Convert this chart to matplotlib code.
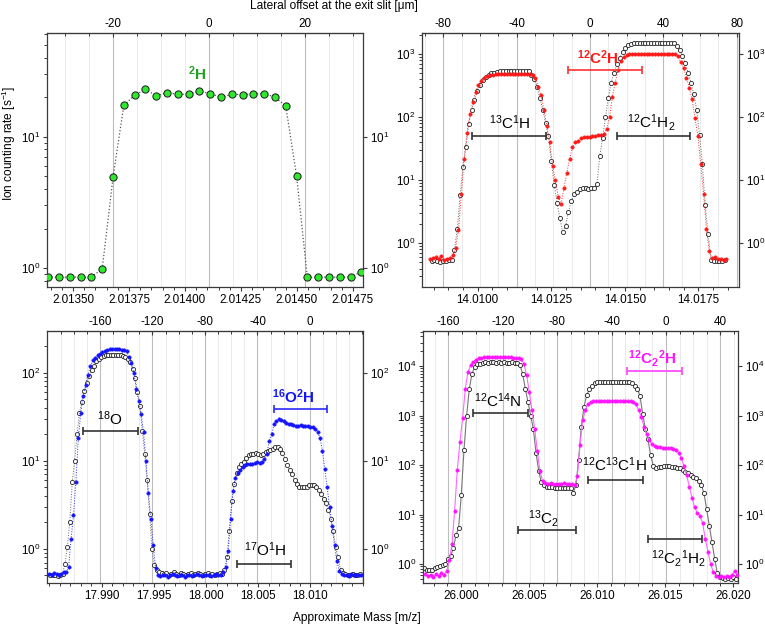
import numpy as np
import matplotlib
matplotlib.use("Agg")
import matplotlib.pyplot as plt
from matplotlib.ticker import (FixedLocator, MultipleLocator, FormatStrFormatter,
                               LogLocator, LogFormatterMathtext, NullFormatter)

plt.rcParams.update({
    "font.family": "Liberation Sans",
    "mathtext.fontset": "custom",
    "mathtext.rm": "Liberation Sans",
    "mathtext.it": "Liberation Sans:italic",
    "mathtext.bf": "Liberation Sans:bold",
    "axes.unicode_minus": False,
    "font.size": 8.6,
})

# ── Data ──────────────────────────────────────────────────────────────────────
# mass scans: start mass, step in m/z, count rates [1/s]

H2_START, H2_STEP = 2.0133897, 0.0000482
H2_RATE = [0.855, 0.855, 0.855, 0.855, 0.855, 0.99, 4.9, 17.3, 20.7, 22.9,
           20.5, 21.6, 21.0, 21.0, 22.2, 21.3, 19.9, 21.0, 20.9, 21.2,
           21.3, 20.0, 17.1, 5.06, 0.855, 0.855, 0.855, 0.855, 0.855, 0.94]

CH_STEP = 0.0000968
CH_BLACK_START = 14.0084364
CH_BLACK = [0.53, 0.54, 0.52, 0.50, 0.53, 0.52, 0.54, 0.55,
            0.78, 1.7, 5.8, 16, 33, 78, 128, 185, 260, 320, 390, 430, 465, 490, 505, 520, 530,
            535, 538, 540, 540, 538, 540, 540, 538, 535,
            530, 470, 400, 300, 200, 130, 80, 50, 20, 8.5, 4.4, 2.5, 1.5,
            1.9, 3.1, 4.7, 6.0, 6.5, 7.2, 7.4, 7.4, 7.3, 7.4, 7.5, 8.7,
            24, 47, 100, 200, 350, 500, 680, 870, 1070, 1250, 1370, 1440, 1460,
            1470, 1480, 1480, 1480, 1480, 1480, 1480, 1480, 1480, 1480, 1480, 1478, 1475, 1460,
            1320, 1140, 920, 720, 500, 350, 230, 130, 52, 18, 4.0, 1.4,
            0.55, 0.53, 0.52, 0.53, 0.52, 0.55]
CH_RED_START = 14.0083798
CH_RED = [0.57, 0.58, 0.60, 0.57, 0.62, 0.55, 0.57, 0.58, 0.65,
          0.85, 1.6, 6, 22, 55, 110, 170, 250, 320, 370, 410, 440, 455, 468, 475,
          480, 482, 483, 483, 482, 483, 483, 482, 483, 482, 480, 478, 470,
          420, 300, 220, 130, 72, 40, 17, 10, 5.5, 4.2,
          7.5, 13, 22, 33, 40, 42, 46, 48, 49, 49, 50, 50, 51, 52, 53,
          65, 100, 210, 350, 560, 780, 900, 950, 990,
          1000, 1000, 1005, 1005, 1005, 1005, 1005, 1005, 1005, 1005, 1005, 1005, 1000, 1000, 1000,
          990, 930, 730, 600, 420, 290, 190, 95, 50, 18, 6, 1.7, 0.75,
          0.58, 0.60, 0.56, 0.57, 0.55, 0.57]

OH_STEP = 0.0002315
OH_BLUE_START = 17.984984
OH_BLUE = [0.52, 0.51, 0.53, 0.52, 0.50, 0.52, 0.54, 0.55,
           0.62, 1.3, 2.4, 5.8, 18, 35, 55, 72, 95, 118, 138, 148, 158, 165, 170, 176, 180,
           184, 185, 184, 185, 184, 183, 182,
           175, 150, 128, 100, 65, 48, 34, 21, 10, 4.3, 2.2, 1.1, 0.6,
           0.50, 0.49, 0.51, 0.50, 0.48, 0.50, 0.52, 0.50, 0.49, 0.51, 0.50, 0.48, 0.50, 0.51,
           0.49, 0.50, 0.52, 0.50, 0.49, 0.50, 0.51, 0.50, 0.49, 0.50, 0.52, 0.50, 0.51, 0.55,
           0.62, 0.95, 2.2, 4.5, 6.3, 7.3, 7.9, 8.4, 8.9, 9.1, 9.3, 9.2, 9.4, 9.6, 9.4, 9.8,
           10.5, 12, 17, 20, 26, 28.5, 29.5, 29, 28, 27, 26.5, 26, 25.5, 25, 25, 25.5, 25, 25,
           25, 24.5, 24, 23, 21.5, 18, 13, 8, 5, 3, 1.8, 1.1, 0.72, 0.56,
           0.52, 0.50, 0.51, 0.49, 0.52, 0.50, 0.51, 0.50, 0.50]
OH_BLACK_START = 17.985096
OH_BLACK = [0.50, 0.50, 0.51, 0.49, 0.50, 0.52,
            0.68, 1.05, 2.0, 5.8, 10, 20, 35, 47, 62, 76, 92, 108, 120, 135, 145, 150, 155,
            158, 160, 160, 161, 160, 160, 159, 157,
            150, 142, 132, 110, 88, 60, 42, 22, 12, 6, 2.5, 1.0, 0.65, 0.57,
            0.55, 0.53, 0.52, 0.53, 0.51, 0.52, 0.54, 0.52, 0.51, 0.53, 0.52, 0.50, 0.52, 0.53,
            0.51, 0.52, 0.53, 0.52, 0.51, 0.52, 0.53, 0.51, 0.52, 0.50, 0.52, 0.53, 0.52,
            0.58, 0.8, 1.6, 3.5, 5.5, 7.2, 8.5, 9.3, 9.8, 10.8, 11.5, 12, 12.1, 12.2, 11.8,
            11.6, 12.1, 12.5, 12.9, 13.2, 13.7, 14.2, 14.5,
            13.8, 12.2, 10.6, 8.9, 7.8, 7.0, 6.1, 5.4, 5.0, 5.0, 5.0, 5.1, 5.3, 5.3, 5.3, 5.1,
            4.7, 4.2, 3.7, 3.3, 2.75, 2.2, 1.6, 1.05, 0.8, 0.57,
            0.53, 0.52, 0.50, 0.51, 0.52, 0.50, 0.51, 0.52]

C2_STEP = 0.0001958
C2_BLACK_START = 25.997283
C2_BLACK = [0.82, 0.78, 0.76, 0.78, 0.82, 0.86, 0.92, 0.98, 1.02, 1.25, 1.45, 2.1, 3.8, 5.5,
            25, 200, 1000, 3500, 7000, 9500, 10800, 11300,
            11800, 11900, 11800, 11900, 11900, 11800, 11900, 11800, 11900, 11800, 11800, 11900,
            11800, 11600,
            10500, 7000, 3500, 1900, 1000, 550, 180, 78, 45, 40, 37,
            36, 35.5, 35, 35, 35, 35, 35, 35, 34,
            28, 40, 130, 600, 1500, 2600, 3400, 4000, 4500,
            4750, 4800, 4850, 4800, 4800, 4850, 4800, 4800, 4850, 4800, 4800, 4800, 4750,
            4600, 4000, 3500, 2500, 1100, 550, 330, 160, 95,
            88, 90, 93, 95, 95, 94, 93, 91, 89, 86, 80, 73, 68, 63, 58, 54, 48, 40, 27, 13, 6,
            2.8, 1.3, 0.65, 0.55,
            0.52, 0.50, 0.52, 0.50, 0.55, 0.50]
C2_MAG_START = 25.997381
C2_MAG = [0.62, 0.58, 0.60, 0.55, 0.62, 0.58, 0.65, 0.60, 0.72,
          1.2, 2.5, 12, 80, 300, 900, 3500, 7500, 10500, 12200, 13500, 14500,
          14800, 15000, 15100, 15000, 15200, 15000, 15100, 15000, 15000, 15100, 15000, 15000,
          14900, 14800, 14500,
          14000, 11000, 6600, 3000, 1300, 550, 190, 75, 48, 44,
          42, 43, 42, 41, 42, 42, 43, 42, 41, 42,
          39, 60, 250, 800, 1300, 1700, 1900,
          1950, 1980, 2000, 2000, 1990, 2000, 2000, 1990, 2000, 2000, 2000, 1990, 1980, 1960, 1940,
          1900, 1700, 1300, 950, 600, 420, 320, 265, 245, 235, 228, 225, 225, 222, 220, 215, 205,
          180, 140, 95, 62, 37, 22, 14, 11, 9.5, 6.8, 3.2, 1.8, 1.0,
          0.7, 0.58, 0.55, 0.57, 0.55, 0.58, 0.56, 0.60, 0.72, 0.60]

# mass windows of the species: (low mass, high mass, height)
CH_BARS = {"12C2H": (14.013057, 14.015571, 550),
           "13C1H": (14.009817, 14.012310, 50),
           "12C1H2": (14.014721, 14.017211, 50)}
OH_BARS = {"16O2H": (18.006504, 18.011609, 38.4),
           "18O": (17.988238, 17.993448, 22),
           "17O1H": (18.002989, 18.008103, 0.68)}
C2_BARS = {"12C22H": (26.012166, 26.016204, 7900),
           "12C14N": (26.000903, 26.004941, 1140),
           "12C13C1H": (26.009347, 26.013385, 50),
           "13C2": (26.004207, 26.008443, 5.0),
           "12C21H2": (26.013708, 26.017717, 3.3)}

# axis ticks
H2_MASS_TICKS = [2.01350, 2.01375, 2.01400, 2.01425, 2.01450, 2.01475]
CH_MASS_TICKS = [14.0100, 14.0125, 14.0150, 14.0175]
OH_MASS_TICKS = [17.990, 17.995, 18.000, 18.005, 18.010]
C2_MASS_TICKS = [26.000, 26.005, 26.010, 26.015, 26.020]
H2_OFF_TICKS = [-20, 0, 20]
CH_OFF_TICKS = [-80, -40, 0, 40, 80]
OH_OFF_TICKS = [-160, -120, -80, -40, 0]
C2_OFF_TICKS = [-160, -120, -80, -40, 0, 40]

AX_COL = "#3a3a3a"


def scan(start, step, values):
    return start + step * np.arange(len(values)), np.array(values)


def style_ticks(axis_obj, direction="out"):
    axis_obj.tick_params(which="both", direction=direction, colors=AX_COL,
                         labelcolor="black", labelsize=8.4, pad=2)
    axis_obj.tick_params(which="major", length=3, width=0.8)
    axis_obj.tick_params(which="minor", length=2, width=0.7)


def panel(fig, rect, xlim, ylim, m0, k, mass_ticks, mass_fmt, mass_minor,
          off_ticks, off_minor):
    ax = fig.add_axes(rect)
    ax.set_yscale("log")
    ax.set_xlim(xlim)
    ax.set_ylim(ylim)
    ax.xaxis.set_major_locator(FixedLocator(mass_ticks))
    ax.xaxis.set_major_formatter(FormatStrFormatter(mass_fmt))
    ax.xaxis.set_minor_locator(MultipleLocator(mass_minor))
    ax.yaxis.set_major_locator(LogLocator(base=10))
    ax.yaxis.set_major_formatter(LogFormatterMathtext())
    ax.yaxis.set_minor_locator(LogLocator(base=10, subs=np.arange(2, 10)))
    ax.yaxis.set_minor_formatter(NullFormatter())
    ax.tick_params(top=False, right=True, labelright=True)
    style_ticks(ax)
    for s in ax.spines.values():
        s.set_color(AX_COL)
        s.set_linewidth(0.9)

    fwd = lambda m: (m - m0) * k
    inv = lambda o: o / k + m0
    sec = ax.secondary_xaxis("top", functions=(fwd, inv))
    sec.xaxis.set_major_locator(FixedLocator(off_ticks))
    sec.xaxis.set_major_formatter(FormatStrFormatter("%d"))
    sec.xaxis.set_minor_locator(MultipleLocator(off_minor))
    style_ticks(sec, direction="in")
    sec.spines["top"].set_color(AX_COL)

    # vertical grid follows the lateral-offset ticks
    lo, hi = sorted(fwd(np.array(xlim)))
    for o in np.arange(np.ceil(lo / off_minor) * off_minor, hi, off_minor):
        major = any(abs(o - t) < 1e-6 for t in off_ticks)
        ax.axvline(inv(o), color="#bdbdbd" if major else "#e6e6e6",
                   lw=0.8 if major else 0.6, zorder=0)
    return ax


def bar(ax, lo, hi, y, color):
    c = 0.5 * (lo + hi)
    ax.errorbar(c, y, xerr=[[c - lo], [hi - c]], fmt="none", ecolor=color,
                elinewidth=1.2, capsize=3, capthick=1.2, zorder=4)


fig = plt.figure(figsize=(7.65, 6.27), dpi=100)

# ── 1. ²H ─────────────────────────────────────────────────────────────────────
ax1 = panel(fig, [0.0614, 0.5423, 0.4131, 0.4051], (2.013384, 2.014795), (0.72, 61.5),
            2.014106, 46667, H2_MASS_TICKS, "%.5f", 0.00005, H2_OFF_TICKS, 5)
x, y = scan(H2_START, H2_STEP, H2_RATE)
ax1.plot(x, y, ls=":", color="#555555", lw=0.9, marker="o", ms=5.2,
         mfc="#2ee82e", mec="#1a1a1a", mew=0.7, zorder=3)
ax1.text(2.014054, 30.3, r"$\mathbf{{}^{2}H}$", color="#1f9e1f", fontsize=11,
         ha="center", va="center")

# ── 2. mass 14 ────────────────────────────────────────────────────────────────
ax2 = panel(fig, [0.5516, 0.5423, 0.4144, 0.4051], (14.008108, 14.018876), (0.204, 2140),
            14.013815, 16058, CH_MASS_TICKS, "%.4f", 0.0005, CH_OFF_TICKS, 10)
x, y = scan(CH_BLACK_START, CH_STEP, CH_BLACK)
ax2.plot(x, y, ls=":", color="#666666", lw=0.7, marker="o", ms=3.0,
         mfc="white", mec="#222222", mew=0.6, zorder=2)
x, y = scan(CH_RED_START, CH_STEP, CH_RED)
ax2.plot(x, y, ls=":", color="#ff2a2a", lw=0.7, marker="o", ms=2.5,
         mfc="#ff1a1a", mec="#ff1a1a", mew=0.3, zorder=3)
bar(ax2, *CH_BARS["12C2H"], "#ff3030")
bar(ax2, *CH_BARS["13C1H"], "#333333")
bar(ax2, *CH_BARS["12C1H2"], "#333333")
ax2.text(14.014086, 870, r"$\mathbf{{}^{12}C{}^{2}H}$", color="#ff1a1a", fontsize=11,
         ha="center", va="center")
ax2.text(14.011097, 81, r"${}^{13}\mathrm{C}{}^{1}\mathrm{H}$", fontsize=11,
         ha="center", va="center")
ax2.text(14.015910, 81, r"${}^{12}\mathrm{C}{}^{1}\mathrm{H}_{2}$", fontsize=11,
         ha="center", va="center")

# ── 3. mass 18 ────────────────────────────────────────────────────────────────
ax3 = panel(fig, [0.0614, 0.0702, 0.4131, 0.4019], (17.98476, 18.01503), (0.41, 298),
            18.00995, 7954, OH_MASS_TICKS, "%.3f", 0.001, OH_OFF_TICKS, 10)
x, y = scan(OH_BLACK_START, OH_STEP, OH_BLACK)
ax3.plot(x, y, ls=":", color="#666666", lw=0.7, marker="o", ms=3.0,
         mfc="white", mec="#222222", mew=0.6, zorder=2)
x, y = scan(OH_BLUE_START, OH_STEP, OH_BLUE)
ax3.plot(x, y, ls=":", color="#2a2aff", lw=0.7, marker="o", ms=2.5,
         mfc="#1414ff", mec="#1414ff", mew=0.3, zorder=3)
bar(ax3, *OH_BARS["16O2H"], "#2a2aff")
bar(ax3, *OH_BARS["18O"], "#333333")
bar(ax3, *OH_BARS["17O1H"], "#333333")
ax3.text(18.008353, 53, r"$\mathbf{{}^{16}O{}^{2}H}$", color="#1414ff", fontsize=11,
         ha="center", va="center")
ax3.text(17.990795, 30, r"${}^{18}\mathrm{O}$", fontsize=11, ha="center", va="center")
ax3.text(18.005642, 0.97, r"${}^{17}\mathrm{O}{}^{1}\mathrm{H}$", fontsize=11,
         ha="center", va="center")

# ── 4. mass 26 ────────────────────────────────────────────────────────────────
ax4 = panel(fig, [0.5529, 0.0702, 0.4118, 0.4019], (25.99721, 26.02034), (0.417, 51300),
            26.01505, 10015, C2_MASS_TICKS, "%.3f", 0.001, C2_OFF_TICKS, 10)
x, y = scan(C2_BLACK_START, C2_STEP, C2_BLACK)
ax4.plot(x, y, ls="-", color="#777777", lw=0.8, marker="o", ms=3.0,
         mfc="white", mec="#222222", mew=0.6, zorder=2)
x, y = scan(C2_MAG_START, C2_STEP, C2_MAG)
ax4.plot(x, y, ls="-", color="#ff66ff", lw=0.8, marker="o", ms=2.5,
         mfc="#ff14ff", mec="#ff14ff", mew=0.3, zorder=3)
bar(ax4, *C2_BARS["12C22H"], "#ff40ff")
for key in ["12C14N", "12C13C1H", "13C2", "12C21H2"]:
    bar(ax4, *C2_BARS[key], "#333333")
ax4.text(26.014001, 14300, r"$\mathbf{{}^{12}C_{2}{}^{2}H}$", color="#ff14ff", fontsize=11,
         ha="center", va="center")
ax4.text(26.002739, 2050, r"${}^{12}\mathrm{C}{}^{14}\mathrm{N}$", fontsize=11,
         ha="center", va="center")
ax4.text(26.011307, 100, r"${}^{12}\mathrm{C}{}^{13}\mathrm{C}{}^{1}\mathrm{H}$", fontsize=11,
         ha="center", va="center")
ax4.text(26.006043, 8.3, r"${}^{13}\mathrm{C}_{2}$", fontsize=11, ha="center", va="center")
ax4.text(26.015954, 1.3, r"${}^{12}\mathrm{C}_{2}{}^{1}\mathrm{H}_{2}$", fontsize=11,
         ha="center", va="center")

# ── shared labels ─────────────────────────────────────────────────────────────
fig.text(334 / 765, 1 - 6 / 627, "Lateral offset at the exit slit [μm]",
         ha="center", va="center", fontsize=8.6)
fig.text(357 / 765, 1 - 618 / 627, "Approximate Mass [m/z]",
         ha="center", va="center", fontsize=8.6)
fig.text(9 / 765, 1 - 143 / 627, "Ion counting rate [s$^{-1}$]", rotation=90,
         ha="center", va="center", fontsize=8.6)

fig.savefig("out.png", dpi=100)
